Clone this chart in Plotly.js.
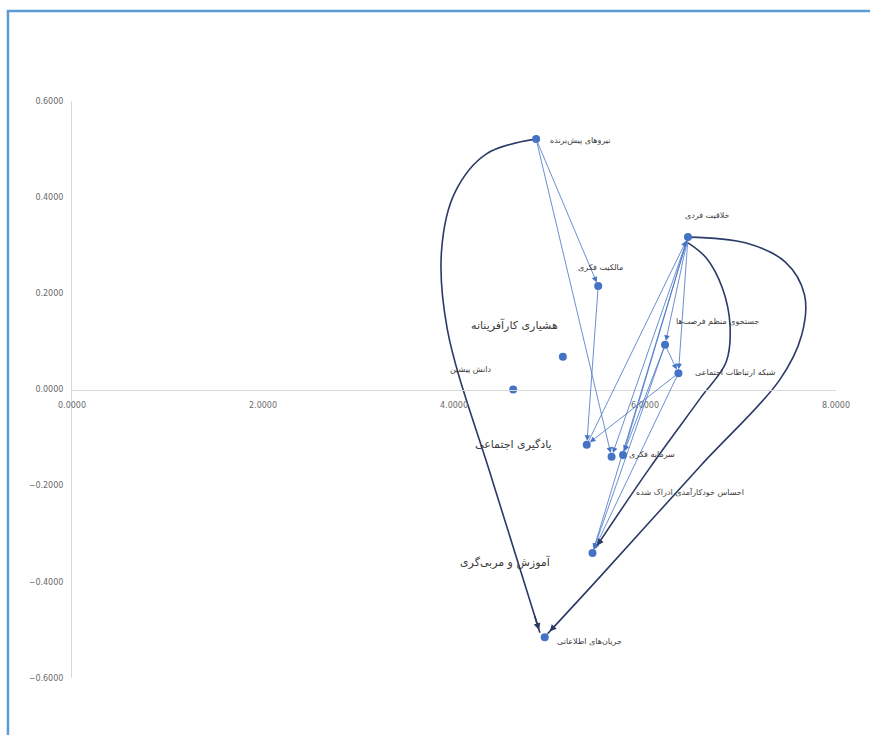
<!DOCTYPE html>
<html><head><meta charset="utf-8">
<script src="https://cdn.plot.ly/plotly-3.0.1.min.js"></script>
<style>body{margin:0;background:#fff}</style>
</head><body><div id="chart" style="width:870px;height:735px"></div>
<script>
// ---- data ----
const nodeNames = ['نیروهای پیش‌برنده','مالکیت فکری','هشیاری کارآفرینانه','دانش پیشین','خلاقیت فردی','جستجوی منظم فرصت‌ها','شبکه ارتباطات اجتماعی','یادگیری اجتماعی','احساس خودکارآمدی ادراک شده','سرمایه فکری','آموزش و مربی‌گری','جریان‌های اطلاعاتی'];
const nodeX = [4.86, 5.51, 5.14, 4.62, 6.45, 6.21, 6.35, 5.39, 5.65, 5.77, 5.45, 4.95];
const nodeY = [0.521, 0.215, 0.068, 0.000, 0.317, 0.093, 0.034, -0.115, -0.140, -0.136, -0.340, -0.515];
// thin relation arrows (index of source node -> index of target node)
const edgeFrom = [0, 0, 1, 4, 4, 4, 4, 4, 5, 6, 7, 5, 6, 5];
const edgeTo   = [1, 8, 7, 8, 9, 10, 5, 6, 6, 7, 4, 10, 10, 9];
// heavy curved connectors (control points)
const curve1X = [4.86, 4.34, 4.01, 3.87, 3.93, 4.40, 4.90];
const curve1Y = [0.521, 0.490, 0.410, 0.290, 0.125, -0.188, -0.506];
const curve2X = [6.45, 7.05, 7.47, 7.67, 7.64, 7.41, 6.58, 5.50, 4.98];
const curve2Y = [0.317, 0.305, 0.265, 0.197, 0.113, 0.020, -0.159, -0.396, -0.508];
const curve3X = [6.45, 6.64, 6.81, 6.89, 6.85, 6.58, 6.05, 5.48];
const curve3Y = [0.305, 0.274, 0.211, 0.134, 0.057, -0.018, -0.163, -0.330];
const xTicks = [0, 2, 4, 6, 8];
const yTicks = [-0.6, -0.4, -0.2, 0, 0.2, 0.4, 0.6];

// ---- styles ----
const labelStyle = [
  {dx:44, dy:-2, size:8}, {dx:2, dy:19, size:8}, {dx:-48, dy:32, size:11},
  {dx:-43, dy:20, size:8}, {dx:19, dy:22, size:8}, {dx:52, dy:23, size:8},
  {dx:57, dy:1, size:8}, {dx:-73, dy:0, size:11}, {dx:78, dy:-35, size:8},
  {dx:29, dy:0, size:8}, {dx:-87, dy:-9, size:11}, {dx:45, dy:-4, size:8}
];
const NAVY = '#2B3A67', BLUE = '#4472C4', FONT = 'DejaVu Sans';

const traces = [];
[[curve1X, curve1Y], [curve2X, curve2Y], [curve3X, curve3Y]].forEach(c => {
  traces.push({x:c[0], y:c[1], mode:'lines', line:{color:NAVY, width:1.6, shape:'spline', smoothing:1}, hoverinfo:'skip', showlegend:false});
});
traces.push({x:nodeX, y:nodeY, mode:'markers', marker:{size:8, color:BLUE}, text:nodeNames, hoverinfo:'text', showlegend:false});

const annotations = [];
edgeFrom.forEach((f, i) => {
  const t = edgeTo[i];
  annotations.push({x:nodeX[t], y:nodeY[t], ax:nodeX[f], ay:nodeY[f], xref:'x', yref:'y', axref:'x', ayref:'y',
    text:'', showarrow:true, arrowhead:2, arrowsize:1.4, arrowwidth:0.8, arrowcolor:BLUE, standoff:4, startstandoff:2});
});
[[curve1X, curve1Y], [curve2X, curve2Y], [curve3X, curve3Y]].forEach(c => {
  const n = c[0].length;
  const bx = c[0][n-1] + (c[0][n-2]-c[0][n-1])*0.12, by = c[1][n-1] + (c[1][n-2]-c[1][n-1])*0.12;
  annotations.push({x:c[0][n-1], y:c[1][n-1], ax:bx, ay:by, xref:'x', yref:'y', axref:'x', ayref:'y',
    text:'', showarrow:true, arrowhead:2, arrowsize:0.85, arrowwidth:1.6, arrowcolor:NAVY, standoff:3});
});
nodeNames.forEach((nm, i) => {
  const s = labelStyle[i];
  annotations.push({x:nodeX[i], y:nodeY[i], xref:'x', yref:'y', text:nm, showarrow:false,
    xshift:s.dx, yshift:s.dy, font:{family:FONT, size:s.size, color:'#3a3a3a'}});
});

const layout = {
  width:870, height:735,
  margin:{l:72, r:34, t:101, b:57},
  paper_bgcolor:'#fff', plot_bgcolor:'#fff',
  xaxis:{range:[0,8], tickvals:xTicks, tickformat:'.4f', showgrid:false, zeroline:false,
    showline:true, linecolor:'#d9d9d9', linewidth:1, anchor:'free', position:0.5, ticks:'',
    ticklabelstandoff:8, tickfont:{family:FONT, size:8, color:'#6a6a6a'}, fixedrange:true},
  yaxis:{range:[-0.6,0.6], tickvals:yTicks, tickformat:'.4f', showgrid:false, zeroline:false,
    showline:true, linecolor:'#d9d9d9', linewidth:1, ticks:'', ticklabelstandoff:6,
    tickfont:{family:FONT, size:8, color:'#6a6a6a'}, fixedrange:true},
  shapes:[{type:'rect', xref:'paper', yref:'paper', x0:-0.0838, x1:1.2, y0:-0.3, y1:1.156,
    line:{color:'#5B9BD5', width:2.5}, fillcolor:'rgba(0,0,0,0)', layer:'below'}],
  annotations:annotations
};
Plotly.newPlot('chart', traces, layout, {staticPlot:true, displayModeBar:false});
</script>
</body></html>
